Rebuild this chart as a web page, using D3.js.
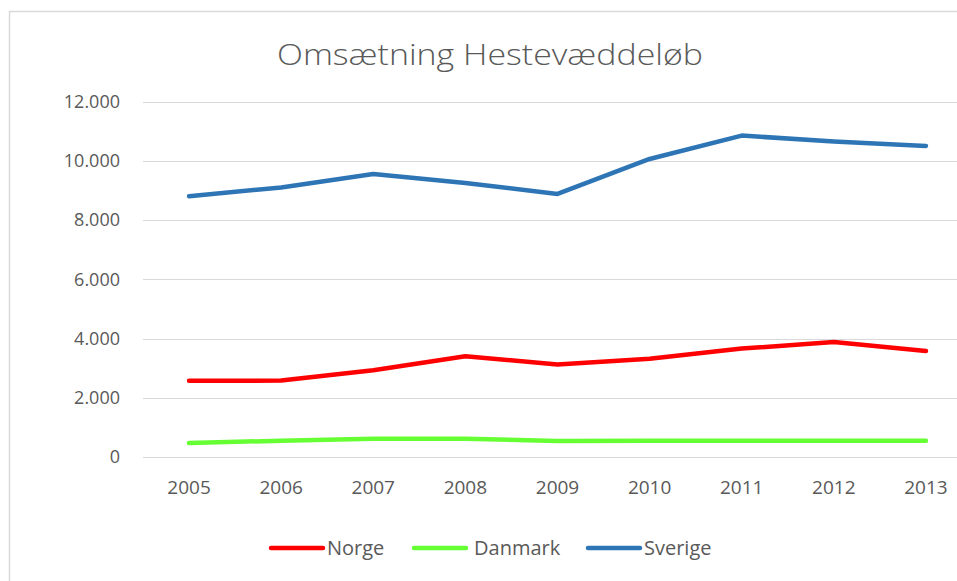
<!DOCTYPE html>
<html>
<head>
<meta charset="utf-8">
<script src="https://cdn.jsdelivr.net/npm/d3@7"></script>
<style>
  body { margin: 0; background: #fff; }
  svg { display: block; font-family: "Open Sans", sans-serif; }
</style>
</head>
<body>
<svg id="chart" width="957" height="581"></svg>
<script>
// data
const years = ["2005", "2006", "2007", "2008", "2009", "2010", "2011", "2012", "2013"];
const norge = [2570, 2580, 2930, 3400, 3120, 3320, 3660, 3880, 3580];
const danmark = [470, 550, 620, 620, 540, 550, 550, 550, 550];
const sverige = [8800, 9100, 9550, 9250, 8880, 10060, 10850, 10650, 10500];
const yTicks = [0, 2000, 4000, 6000, 8000, 10000, 12000];
const seriesNames = ["Norge", "Danmark", "Sverige"];

const series = [
    {name: seriesNames[0], values: norge, color: "#FF0000"},
    {name: seriesNames[1], values: danmark, color: "#66FF33"},
    {name: seriesNames[2], values: sverige, color: "#2E75B6"}
];

const width = 957;
const height = 581;
const svg = d3.select("#chart");

// chart frame (runs off right and bottom edge)
svg.append("rect")
    .attr("x", 9.5)
    .attr("y", 11.5)
    .attr("width", 980)
    .attr("height", 600)
    .attr("fill", "#fff")
    .attr("stroke", "#d9d9d9")
    .attr("stroke-width", 1.5);

const x = d3.scaleBand()
    .domain(years)
    .range([143, 972]);

const y = d3.scaleLinear()
    .domain([0, 12000])
    .range([457, 101.5]);

const fmt = d => d3.format(",")(d).replace(/,/g, ".");

// gridlines
svg.append("g")
    .selectAll("line")
    .data(yTicks)
    .join("line")
    .attr("x1", 143)
    .attr("x2", 972)
    .attr("y1", d => Math.round(y(d)) + 0.5)
    .attr("y2", d => Math.round(y(d)) + 0.5)
    .attr("stroke", "#d9d9d9")
    .attr("stroke-width", 1);

// y labels
svg.append("g")
    .selectAll("text")
    .data(yTicks)
    .join("text")
    .attr("x", 120)
    .attr("y", d => y(d))
    .attr("dy", "0.36em")
    .attr("text-anchor", "end")
    .attr("font-size", 18)
    .attr("fill", "#595959")
    .text(fmt);

// x labels
svg.append("g")
    .selectAll("text")
    .data(years)
    .join("text")
    .attr("x", d => x(d) + x.bandwidth() / 2)
    .attr("y", 494)
    .attr("text-anchor", "middle")
    .attr("font-size", 19)
    .attr("fill", "#595959")
    .text(d => d);

const line = d3.line()
    .x((d, i) => x(years[i]) + x.bandwidth() / 2)
    .y(d => y(d));

svg.append("g")
    .selectAll("path")
    .data(series)
    .join("path")
    .attr("fill", "none")
    .attr("stroke", d => d.color)
    .attr("stroke-width", 4.5)
    .attr("stroke-linejoin", "round")
    .attr("stroke-linecap", "round")
    .attr("d", d => line(d.values));

// title
svg.append("text")
    .attr("x", 490)
    .attr("y", 65)
    .attr("text-anchor", "middle")
    .attr("font-size", 29)
    .attr("font-weight", 300)
    .attr("fill", "#595959")
    .attr("textLength", 426)
    .attr("lengthAdjust", "spacingAndGlyphs")
    .text("Omsætning Hestevæddeløb");

// legend
const legendX = [270, 413, 587];
const legend = svg.append("g")
    .selectAll("g")
    .data(series)
    .join("g")
    .attr("transform", (d, i) => `translate(${legendX[i]},548)`);

legend.append("line")
    .attr("x1", 1)
    .attr("x2", 53)
    .attr("stroke", d => d.color)
    .attr("stroke-width", 4.5)
    .attr("stroke-linecap", "round");

legend.append("text")
    .attr("x", (d, i) => i == 1 ? 61 : 57)
    .attr("y", 7)
    .attr("font-size", 20)
    .attr("fill", "#595959")
    .text(d => d.name);
</script>
</body>
</html>
